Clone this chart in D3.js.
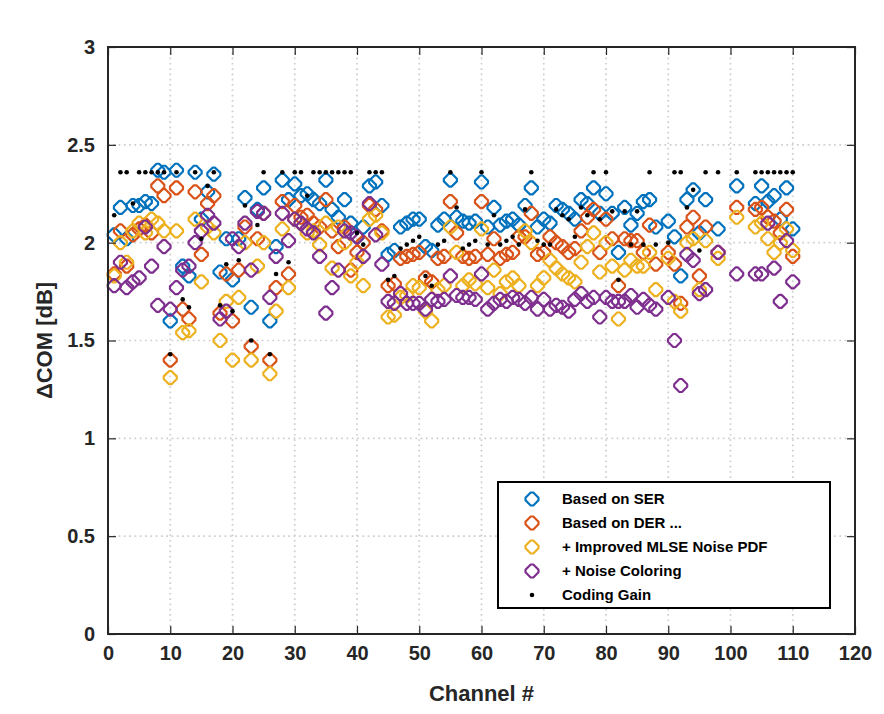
<!DOCTYPE html>
<html>
<head>
<meta charset="utf-8">
<script src="https://cdn.jsdelivr.net/npm/d3@7"></script>
<style>
body { margin: 0; background: #fff; }
text { font-family: "Liberation Sans", Arial, sans-serif; }
</style>
</head>
<body>
<svg id="chart" width="884" height="714"></svg>
<script>

// channel index of every measured channel (a few are missing)
var channels = [
  1, 2, 3, 4, 5, 6, 7, 8, 9, 10,
  11, 12, 13, 14, 15, 16, 17, 18, 19, 20,
  21, 22, 23, 24, 25, 26, 27, 28, 29, 30,
  31, 32, 33, 34, 35, 36, 37, 38, 39, 40,
  41, 42, 43, 44, 45, 46, 47, 48, 49, 50,
  51, 52, 53, 54, 55, 56, 57, 58, 59, 60,
  61, 62, 63, 64, 65, 66, 67, 68, 69, 70,
  71, 72, 73, 74, 75, 76, 77, 78, 79, 80,
  81, 82, 83, 84, 85, 86, 87, 88, 90,
  91, 92, 93, 94, 95, 96, 98,
  101, 104, 105, 106, 107, 108, 109, 110
];

var basedOnSER = [
  2.04, 2.18, 2.02, 2.19, 2.19, 2.21, 2.20, 2.37, 2.36, 1.60,
  2.37, 1.88, 1.83, 2.36, 2.12, 2.26, 2.35, 1.85, 2.02, 1.81,
  2.02, 2.23, 1.67, 2.17, 2.28, 1.60, 1.98, 2.32, 2.22, 2.30,
  2.24, 2.25, 2.22, 2.20, 2.32, 2.17, 2.13, 2.22, 2.10, 2.03,
  2.08, 2.29, 2.31, 2.19, 1.94, 1.96, 2.08, 2.10, 2.12, 2.12,
  1.98, 1.96, 2.09, 2.12, 2.32, 2.13, 2.11, 2.10, 2.11, 2.31,
  2.08, 2.18, 2.09, 2.11, 2.12, 2.09, 2.19, 2.28, 2.08, 2.12,
  2.10, 2.19, 2.17, 2.15, 2.12, 2.22, 2.20, 2.28, 2.15, 2.25,
  2.15, 1.95, 2.18, 2.09, 2.15, 2.21, 2.22, 2.08, 2.11,
  2.03, 1.83, 2.22, 2.27, 2.05, 2.22, 2.07,
  2.29, 2.20, 2.29, 2.21, 2.24, 2.12, 2.28, 2.07
];

var basedOnDER = [
  1.84, 2.06, 1.88, 2.04, 2.07, 2.09, 2.05, 2.29, 2.24, 1.40,
  2.28, 1.66, 1.61, 2.26, 1.94, 2.20, 2.24, 1.64, 1.84, 1.60,
  1.86, 2.08, 1.47, 2.02, 2.15, 1.40, 1.77, 2.21, 1.84, 2.19,
  2.13, 2.14, 2.10, 2.08, 2.22, 2.06, 1.98, 2.08, 1.86, 1.95,
  2.00, 2.19, 2.17, 2.06, 1.78, 1.79, 1.92, 1.93, 1.94, 1.95,
  1.82, 1.80, 1.92, 1.93, 2.21, 2.05, 1.93, 1.92, 1.93, 2.21,
  1.94, 2.02, 1.92, 1.94, 1.95, 2.03, 2.03, 2.15, 1.94, 1.95,
  2.03, 2.00, 1.98, 1.95, 1.97, 2.06, 2.13, 2.17, 1.95, 2.12,
  2.02, 1.78, 2.02, 2.01, 2.01, 1.95, 2.09, 1.89, 1.95,
  1.89, 1.69, 2.08, 2.13, 1.83, 2.08, 1.95,
  2.18, 2.17, 2.18, 2.13, 2.11, 2.05, 2.17, 1.93
];

var improvedNoisePDF = [
  1.83, 2.00, 1.90, 2.06, 2.10, 2.05, 2.12, 2.10, 2.06, 1.31,
  2.06, 1.54, 1.55, 2.12, 1.80, 2.08, 2.05, 1.50, 1.70, 1.40,
  1.72, 2.00, 1.40, 1.88, 2.00, 1.33, 1.65, 2.07, 1.77, 2.12,
  2.10, 2.05, 2.06, 1.99, 2.10, 1.87, 2.08, 2.00, 1.83, 1.90,
  1.78, 2.12, 2.14, 2.05, 1.62, 1.63, 1.72, 1.73, 1.78, 1.77,
  1.65, 1.60, 1.76, 1.78, 2.08, 1.95, 1.78, 1.81, 1.79, 2.07,
  1.77, 1.86, 1.74, 1.80, 1.82, 1.78, 2.06, 2.00, 1.78, 1.82,
  1.91, 1.87, 1.84, 1.82, 1.80, 1.90, 1.98, 2.05, 1.85, 2.00,
  1.88, 1.61, 1.86, 1.91, 1.88, 1.88, 1.95, 1.76, 1.92,
  1.70, 1.65, 2.00, 2.02, 1.76, 2.01, 1.92,
  2.13, 2.08, 2.10, 2.02, 1.95, 2.00, 2.07, 1.96
];

var noiseColoring = [
  1.78, 1.90, 1.77, 1.80, 1.82, 2.08, 1.88, 1.68, 1.98, 1.66,
  1.77, 1.86, 1.88, 2.00, 2.06, 2.14, 2.10, 1.61, 1.65, 2.02,
  1.98, 2.10, 1.86, 2.16, 2.15, 1.72, 1.93, 2.15, 2.01, 2.12,
  2.10, 2.07, 2.05, 1.93, 1.64, 1.77, 1.86, 2.06, 2.05, 2.03,
  1.93, 2.20, 2.04, 1.89, 1.70, 1.69, 1.74, 1.69, 1.69, 1.69,
  1.66, 1.71, 1.70, 1.71, 1.83, 1.73, 1.72, 1.72, 1.71, 1.84,
  1.66, 1.69, 1.71, 1.70, 1.72, 1.71, 1.69, 1.72, 1.66, 1.71,
  1.66, 1.68, 1.67, 1.65, 1.71, 1.74, 1.70, 1.72, 1.62, 1.72,
  1.70, 1.70, 1.70, 1.73, 1.67, 1.71, 1.68, 1.66, 1.72,
  1.50, 1.27, 1.94, 1.91, 1.74, 1.76, 1.95,
  1.84, 1.84, 1.84, 2.10, 1.87, 1.70, 2.01, 1.80
];

var codingGain = [
  2.14, 2.36, 2.36, 2.20, 2.36, 2.36, 2.36, 2.36, 2.36, 1.43,
  2.36, 1.71, 1.67, 2.36, 2.02, 2.29, 2.36, 1.68, 1.89, 1.65,
  1.91, 2.19, 1.50, 2.09, 2.36, 1.43, 1.84, 2.36, 1.90, 2.36,
  2.36, 2.24, 2.36, 2.36, 2.36, 2.36, 2.36, 2.36, 2.36, 2.05,
  1.99, 2.36, 2.36, 2.36, 1.81, 1.83, 1.97, 1.99, 2.01, 2.03,
  1.83, 1.78, 1.99, 2.01, 2.36, 2.18, 1.97, 1.99, 2.01, 2.36,
  1.99, 2.14, 1.99, 2.01, 2.03, 1.99, 2.17, 2.36, 2.01, 1.99,
  1.99, 2.17, 2.14, 2.12, 2.03, 2.18, 2.14, 2.36, 2.12, 2.36,
  2.16, 1.81, 2.16, 1.99, 2.16, 1.99, 2.36, 1.99, 2.00,
  2.36, 2.36, 2.18, 2.27, 1.96, 2.36, 2.36,
  2.36, 2.36, 2.36, 2.36, 2.36, 2.36, 2.36, 2.36
];

var xTicks = [0, 10, 20, 30, 40, 50, 60, 70, 80, 90, 100, 110, 120];
var yTicks = [0, 0.5, 1, 1.5, 2, 2.5, 3];

var seriesNames = ['Based on SER', 'Based on DER ...', '+ Improved MLSE Noise PDF', '+ Noise Coloring'];
var seriesValues = [basedOnSER, basedOnDER, improvedNoisePDF, noiseColoring];
var seriesColours = ['#0072BD', '#D95319', '#EDB120', '#7E2F8E'];

//-------------------------------------------------------------------------------

var W = 884, H = 714;
var box = { left: 108, right: 855, top: 47, bottom: 634 };
var ink = '#262626';

var svg = d3.select('#chart');
svg.append('rect').attr('width', W).attr('height', H).attr('fill', '#fff');

var x = d3.scaleLinear().domain([0, 120]).range([box.left, box.right]);
var y = d3.scaleLinear().domain([0, 3]).range([box.bottom, box.top]);

// MATLAB 'd' marker as it comes out at low resolution: a diamond with blunt tips
function MarkerPath(r) {
    var t = r * 0.2;
    return `M${-t},${-r} L${t},${-r} L${r},${-t} L${r},${t} L${t},${r} L${-t},${r} L${-r},${t} L${-r},${-t} Z`;
}

//-------------------------------------------------------------------------------
// dotted grid

var gGrid = svg.append('g')
    .attr('stroke', '#cdcdcd')
    .attr('stroke-width', 1.7)
    .attr('stroke-dasharray', '1.7,3.6');

gGrid.selectAll('line.gx')
    .data(xTicks.slice(1, -1))
    .join('line')
    .attr('x1', d => x(d)).attr('x2', d => x(d))
    .attr('y1', box.top).attr('y2', box.bottom);

gGrid.selectAll('line.gy')
    .data(yTicks.slice(1, -1))
    .join('line')
    .attr('class', 'gy')
    .attr('x1', box.left).attr('x2', box.right)
    .attr('y1', d => y(d)).attr('y2', d => y(d));

//-------------------------------------------------------------------------------
// markers, one group per series

var gMarks = svg.append('g');

seriesValues.forEach(function (vals, k) {
    gMarks.append('g')
        .selectAll('path')
        .data(channels.map((c, i) => ({ ch: c, v: vals[i] })))
        .join('path')
        .attr('d', MarkerPath(6.5))
        .attr('transform', d => `translate(${x(d.ch)},${y(d.v)})`)
        .attr('fill', 'none')
        .attr('stroke', seriesColours[k])
        .attr('stroke-width', 2.2)
        .attr('stroke-linejoin', 'round');
});

gMarks.append('g')
    .selectAll('circle')
    .data(channels.map((c, i) => ({ ch: c, v: codingGain[i] })))
    .join('circle')
    .attr('cx', d => x(d.ch))
    .attr('cy', d => y(d.v))
    .attr('r', 2.3)
    .attr('fill', '#000');

//-------------------------------------------------------------------------------
// axes (ticks inward on all four sides, like box on)

function StyleAxis(g) {
    g.select('.domain').remove();
    g.selectAll('.tick line').attr('stroke', ink).attr('stroke-width', 1.2);
    g.selectAll('.tick text')
        .attr('fill', ink)
        .style('font-size', '20px')
        .style('font-weight', 'bold');
}

svg.append('g')
    .attr('transform', `translate(0,${box.bottom})`)
    .call(d3.axisBottom(x).tickValues(xTicks).tickSize(-8).tickSizeOuter(0).tickPadding(12))
    .call(StyleAxis);

svg.append('g')
    .attr('transform', `translate(0,${box.top})`)
    .call(d3.axisTop(x).tickValues(xTicks).tickSize(-8).tickSizeOuter(0).tickFormat(''))
    .call(StyleAxis);

svg.append('g')
    .attr('transform', `translate(${box.left},0)`)
    .call(d3.axisLeft(y).tickValues(yTicks).tickSize(-8).tickSizeOuter(0).tickPadding(13).tickFormat(d3.format('')))
    .call(StyleAxis);

svg.append('g')
    .attr('transform', `translate(${box.right},0)`)
    .call(d3.axisRight(y).tickValues(yTicks).tickSize(-8).tickSizeOuter(0).tickFormat(''))
    .call(StyleAxis);

svg.append('rect')
    .attr('x', box.left).attr('y', box.top)
    .attr('width', box.right - box.left).attr('height', box.bottom - box.top)
    .attr('fill', 'none')
    .attr('stroke', ink)
    .attr('stroke-width', 2);

// axis titles
svg.append('text')
    .attr('x', (box.left + box.right) / 2).attr('y', 701)
    .attr('text-anchor', 'middle')
    .attr('fill', ink)
    .style('font-size', '22px').style('font-weight', 'bold')
    .text('Channel #');

svg.append('text')
    .attr('transform', `translate(52,${(box.top + box.bottom) / 2}) rotate(-90)`)
    .attr('text-anchor', 'middle')
    .attr('fill', ink)
    .style('font-size', '22px').style('font-weight', 'bold')
    .text('ΔCOM [dB]');

//-------------------------------------------------------------------------------
// legend

var legend = { x: 498, y: 482, w: 332, h: 126 };
var gLeg = svg.append('g');

gLeg.append('rect')
    .attr('x', legend.x).attr('y', legend.y)
    .attr('width', legend.w).attr('height', legend.h)
    .attr('fill', '#fff')
    .attr('stroke', '#000')
    .attr('stroke-width', 2);

var legendRows = seriesNames.map((n, k) => ({ name: n, colour: seriesColours[k], dot: false }))
    .concat([{ name: 'Coding Gain', colour: '#000', dot: true }]);

var row = gLeg.selectAll('g.row')
    .data(legendRows)
    .join('g')
    .attr('transform', (d, i) => `translate(${legend.x + 34},${legend.y + 17 + i * 24})`);

row.filter(d => !d.dot).append('path')
    .attr('d', MarkerPath(6.5))
    .attr('fill', 'none')
    .attr('stroke', d => d.colour)
    .attr('stroke-width', 2.2)
    .attr('stroke-linejoin', 'round');

row.filter(d => d.dot).append('circle')
    .attr('r', 2.3)
    .attr('fill', '#000');

row.append('text')
    .attr('x', 30).attr('dy', '0.35em')
    .attr('fill', '#000')
    .style('font-size', '15px').style('font-weight', 'bold')
    .text(d => d.name);

</script>
</body>
</html>
